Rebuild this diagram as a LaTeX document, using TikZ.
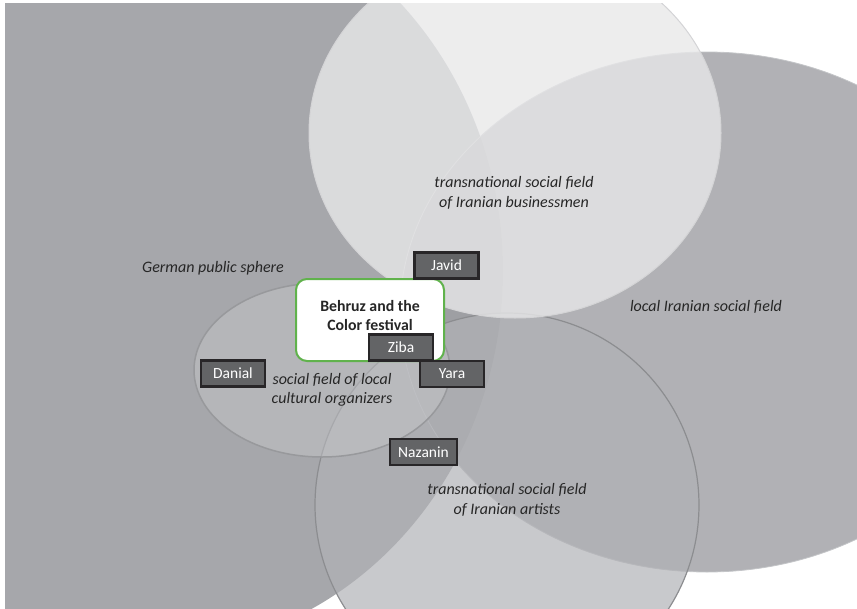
\documentclass[tikz,border=0pt]{standalone}
\usepackage{fontspec}
\setmainfont{Carlito}
\definecolor{germ}{RGB}{166,167,171}
\definecolor{localfill}{RGB}{157,158,162}
\definecolor{localedge}{RGB}{196,197,200}
\definecolor{artfill}{RGB}{177,178,182}
\definecolor{artedge}{RGB}{140,141,144}
\definecolor{cultfill}{RGB}{200,201,204}
\definecolor{cultedge}{RGB}{152,153,156}
\definecolor{busfill}{RGB}{232,232,233}
\definecolor{busedge}{RGB}{212,212,214}
\definecolor{labeltext}{RGB}{38,38,38}
\definecolor{namefill}{RGB}{99,100,102}
\definecolor{nameedge}{RGB}{40,38,40}
\definecolor{festgreen}{RGB}{96,178,76}
\tikzset{
  fieldlabel/.style={text=labeltext, align=center, inner sep=0pt, font=\itshape\fontsize{16}{19.5}\selectfont},
  namebox/.style={draw=nameedge, line width=2.2pt, fill=namefill, text=white, inner sep=0pt,
    minimum width=64pt, minimum height=26pt, font=\fontsize{15.5}{18}\selectfont},
  festbox/.style={draw=festgreen, line width=2pt, fill=white, rounded corners=11pt,
    minimum width=148pt, minimum height=82pt, inner sep=0pt},
  festtext/.style={text=labeltext, align=center, inner sep=0pt, font=\bfseries\fontsize{15.8}{19}\selectfont}
}
\begin{document}
\begin{tikzpicture}[x=1pt,y=-1pt]
\useasboundingbox (0,0) rectangle (857,608);
\begin{scope}
  \clip (5,3) rectangle (857,608);
  % German public sphere
  \fill[germ] (150,271) ellipse [x radius=353pt, y radius=380pt];
  % local Iranian social field
  \draw[localedge, line width=0.8pt, fill=localfill, fill opacity=0.8] (707,312) ellipse [x radius=307pt, y radius=260pt];
  % transnational social field of Iranian artists
  \draw[artedge, line width=1.2pt, fill=artfill, fill opacity=0.7] (507,505) circle [radius=192pt];
  % social field of local cultural organizers
  \draw[cultedge, line width=1.5pt, fill=cultfill, fill opacity=0.45] (322,370) ellipse [x radius=128pt, y radius=87pt];
  % transnational social field of Iranian businessmen
  \draw[busedge, line width=1pt, fill=busfill, fill opacity=0.8] (515,133) ellipse [x radius=206pt, y radius=185pt];
\end{scope}
% field labels
\node[fieldlabel] (lgerman) at (213,268) {German public sphere};
\node[fieldlabel] (lbusiness) at (514,193) {transnational social field\\of Iranian businessmen};
\node[fieldlabel] (llocal) at (706,307) {local Iranian social field};
\node[fieldlabel] (lcultural) at (332,390) {social field of local\\cultural organizers};
\node[fieldlabel] (lartists) at (507,500) {transnational social field\\of Iranian artists};
% Behruz box
\node[festbox] (behruz) at (370,320) {};
\node[festtext] (behruztext) at (370,316) {Behruz and the\\Color festival};
% name boxes
\node[namebox] (javid) at (446.5,265.5) {Javid};
\node[namebox] (ziba) at (401,347.5) {Ziba};
\node[namebox] (yara) at (452,374) {Yara};
\node[namebox] (danial) at (233,373.5) {Danial};
\node[namebox, minimum width=67pt] (nazanin) at (423.5,452) {Nazanin};
\end{tikzpicture}
\end{document}
